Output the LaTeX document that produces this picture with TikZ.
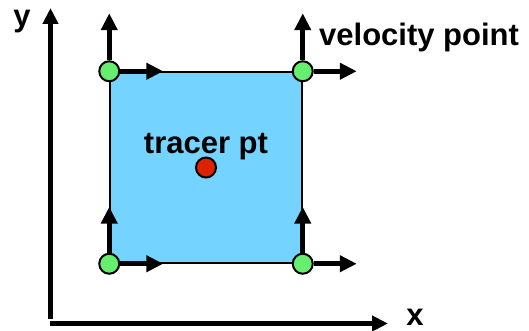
\documentclass[tikz,border=0pt]{standalone}
\usepackage{fontspec}
\setmainfont{Liberation Sans}
\usepackage{xcolor}
\usetikzlibrary{arrows.meta, positioning}

\definecolor{cellblue}{HTML}{75D3FF}
\definecolor{velgreen}{HTML}{66EE6E}
\definecolor{tracerred}{HTML}{DD2200}

\begin{document}
\begin{tikzpicture}[
    x=1pt, y=1pt,
    cell/.style={
        rectangle,
        draw,
        line width=1.5pt,
        fill=cellblue,
        minimum width=192pt,
        minimum height=191pt
    },
    vel/.style={circle, draw, line width=2pt, fill=velgreen, minimum size=20pt, inner sep=0pt},
    tracer/.style={circle, draw, line width=2pt, fill=tracerred, minimum size=20pt, inner sep=0pt},
    txt/.style={font=\fontsize{31}{31}\selectfont\bfseries, inner sep=0pt},
    vec/.style={line width=5pt, -{Triangle[length=17pt,width=16pt]}},
    axis/.style={line width=5pt, -{Triangle[length=16pt,width=15pt]}}
]
\useasboundingbox (0,0) rectangle (529,331);

% axes
\coordinate (xstart) at (50,7.5);
\coordinate (xend) at (388,7.5);
\coordinate (ystart) at (50.5,12);
\coordinate (yend) at (50.5,323);
\draw[axis] (xstart) -- (xend);
\draw[axis] (ystart) -- (yend);
\node[txt, anchor=base] (xlabel) at (415,5) {x};
\node[txt, anchor=base] (ylabel) at (22,304) {y};

% grid cell
\node[cell] (box) at (206,163.5) {};
\node[tracer] (tr) at (box.center) {};
\node[txt, anchor=base] (trlabel) at ([yshift=3pt]tr.north) {tracer pt};

% velocity points
\node[vel] (sw) at (box.south west) {};
\node[vel] (se) at (box.south east) {};
\node[vel] (nw) at (box.north west) {};
\node[vel] (ne) at (box.north east) {};

\coordinate[above=46pt of sw] (sw-up);
\coordinate[right=43pt of sw] (sw-right);
\coordinate[above=46pt of se] (se-up);
\coordinate[right=43pt of se] (se-right);
\coordinate[above=47pt of nw] (nw-up);
\coordinate[right=43pt of nw] (nw-right);
\coordinate[above=47pt of ne] (ne-up);
\coordinate[right=43pt of ne] (ne-right);

\draw[vec] (sw) -- (sw-up);
\draw[vec] (sw) -- (sw-right);
\draw[vec] (se) -- (se-up);
\draw[vec] (se) -- (se-right);
\draw[vec] (nw) -- (nw-up);
\draw[vec] (nw) -- (nw-right);
\draw[vec] (ne) -- (ne-up);
\draw[vec] (ne) -- (ne-right);

\node[txt, anchor=base west] (vlabel) at (319,285) {velocity point};

\end{tikzpicture}
\end{document}
